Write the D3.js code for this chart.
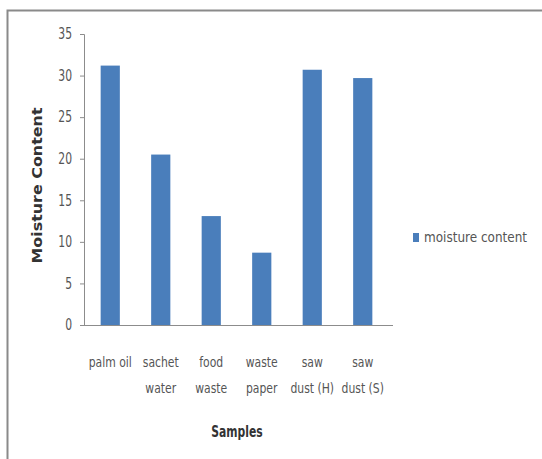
<!DOCTYPE html>
<html>
<head>
<meta charset="utf-8">
<script src="https://cdn.jsdelivr.net/npm/d3@7"></script>
<style>
  html, body { margin: 0; padding: 0; background: #fff; }
  svg { display: block; }
  text { font-family: "Liberation Sans Narrow", "DejaVu Sans Condensed", "Open Sans", sans-serif; }
</style>
</head>
<body>
<svg id="chart" width="542" height="459"></svg>
<script>
// Moisture content of each sample
const categories = [
  ["palm oil"],
  ["sachet", "water"],
  ["food", "waste"],
  ["waste", "paper"],
  ["saw", "dust (H)"],
  ["saw", "dust (S)"]
];
const moisture = [31.2, 20.5, 13.1, 8.7, 30.7, 29.7];
const yTicks = [0, 5, 10, 15, 20, 25, 30, 35];
const seriesName = "moisture content";

const svg = d3.select("#chart");
const barColor = "#4A7EBB";
const axisColor = "#8c8c8c";
const textColor = "#555";
const squeeze = 0.8;      // horizontal compression for tick and title text
const labelSqueeze = 0.86; // compression for category labels

// Outer frame (top and left edges visible)
svg.append("rect")
  .attr("x", 7.5).attr("y", 10.5)
  .attr("width", 560).attr("height", 480)
  .attr("fill", "#fff")
  .attr("stroke", "#8a8a8a").attr("stroke-width", 2);

const plot = { left: 85, right: 388, top: 34, bottom: 325 };

const x = d3.scaleBand()
  .domain(d3.range(categories.length))
  .range([plot.left, plot.right])
  .paddingInner(0.62).paddingOuter(0.31);

const y = d3.scaleLinear()
  .domain([0, 35])
  .range([plot.bottom, plot.top]);

// Bars
svg.append("g").selectAll("rect")
  .data(moisture)
  .join("rect")
  .attr("x", (d, i) => x(i))
  .attr("y", d => y(d))
  .attr("width", x.bandwidth())
  .attr("height", d => y(0) - y(d))
  .attr("fill", barColor);

// Y axis
const yAxis = svg.append("g")
  .attr("transform", `translate(${plot.left - 1},0)`)
  .call(d3.axisLeft(y).tickValues(yTicks).tickSize(4).tickPadding(8));
yAxis.select(".domain").attr("stroke", axisColor);
yAxis.selectAll(".tick line").attr("stroke", axisColor);
yAxis.selectAll(".tick text")
  .attr("fill", textColor)
  .attr("font-size", 15)
  .attr("transform", `scale(${squeeze},1)`)
  .attr("x", -12 / squeeze);

// X axis baseline
svg.append("line")
  .attr("x1", plot.left - 4).attr("x2", plot.right + 5)
  .attr("y1", plot.bottom + 0.5).attr("y2", plot.bottom + 0.5)
  .attr("stroke", axisColor);

// Category labels
const labels = svg.append("g").attr("transform", `scale(${labelSqueeze},1)`);
categories.forEach((lines, i) => {
  const cx = (x(i) + x.bandwidth() / 2) / labelSqueeze;
  const t = labels.append("text")
    .attr("text-anchor", "middle")
    .attr("fill", textColor)
    .attr("font-size", 14);
  lines.forEach((ln, k) => {
    t.append("tspan").attr("x", cx).attr("y", 367 + k * 26).text(ln);
  });
});

// Axis titles
svg.append("text")
  .attr("transform", `translate(42,${(plot.top + plot.bottom) / 2 + 6}) rotate(-90)`)
  .attr("text-anchor", "middle")
  .attr("font-weight", "bold")
  .attr("font-size", 14)
  .attr("fill", "#333")
  .attr("textLength", 156)
  .attr("lengthAdjust", "spacingAndGlyphs")
  .text("Moisture Content");

svg.append("text")
  .attr("x", 237 / squeeze).attr("y", 437)
  .attr("transform", `scale(${squeeze},1)`)
  .attr("text-anchor", "middle")
  .attr("font-weight", "bold")
  .attr("font-size", 15)
  .attr("fill", "#333")
  .text("Samples");

// Legend
const legend = svg.append("g").attr("transform", "translate(413,233)");
legend.append("rect")
  .attr("width", 6).attr("height", 9)
  .attr("fill", barColor);
legend.append("text")
  .attr("x", 11).attr("y", 9)
  .attr("font-size", 14)
  .attr("fill", textColor)
  .attr("textLength", 103)
  .attr("lengthAdjust", "spacingAndGlyphs")
  .text(seriesName);
</script>
</body>
</html>
